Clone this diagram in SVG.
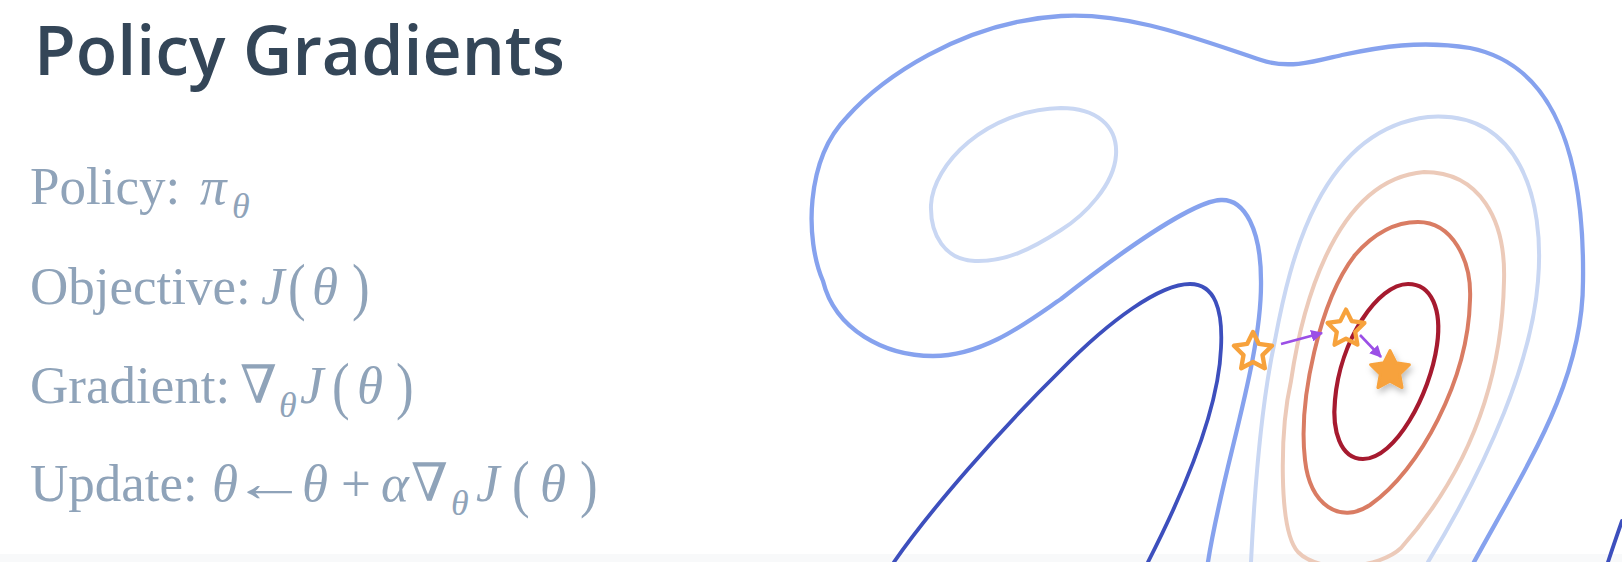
<svg xmlns="http://www.w3.org/2000/svg" width="1622" height="562" viewBox="0 0 1622 562">
<style>
.title{font-family:"Open Sans","Noto Sans",sans-serif;font-weight:600;font-size:68px;fill:#344658}
.body{font-family:"Liberation Serif","DejaVu Serif",serif;font-size:53px;fill:#8fa3b9}
.it{font-style:italic}
.sub{font-style:italic;font-size:36px}
.c{fill:none;stroke-width:4;stroke-linecap:round;stroke-linejoin:round}
.ca{stroke:#86a2ee;stroke-width:4.3}
.cb{stroke:#c9d7f3}
.cc{stroke:#3d4fbd;stroke-width:3.8}
.ce{stroke:#eccab9}
.cf{stroke:#d97c63}
.cg{stroke:#a61a2f;stroke-width:4.2}
.star-o{fill:none;stroke:#f7a23c;stroke-width:4.4;stroke-linejoin:round}
.star-f{fill:#f7a23c;stroke:#f7a23c;stroke-width:3;stroke-linejoin:round}
.arr{stroke:#9b4fe6;stroke-width:2.6;fill:none}
</style>
<defs>
<path id="star" d="M0,-20 L5.9,-8.1 L19,-6.2 L9.5,3.1 L11.8,16.2 L0,10 L-11.8,16.2 L-9.5,3.1 L-19,-6.2 L-5.9,-8.1 Z"/>
<marker id="ah" markerUnits="userSpaceOnUse" markerWidth="12" markerHeight="12" viewBox="0 0 10 10" refX="9" refY="5" orient="auto">
<path d="M0,0 L10,5 L0,10 Z" fill="#9b4fe6"/>
</marker>
<filter id="sh" x="-60%" y="-60%" width="220%" height="220%">
<feDropShadow dx="2" dy="4" stdDeviation="3" flood-color="#000" flood-opacity="0.25"/>
</filter>
</defs>
<rect x="0" y="0" width="1622" height="562" fill="#ffffff"/>
<rect x="0" y="554" width="1622" height="8" fill="#f8f9fa"/>

<g id="title"><text class="title" x="34" y="75">Policy Gradients</text></g>

<g id="line-policy"><text class="body" y="204"><tspan x="30">Policy:</tspan><tspan class="it" x="200">π</tspan><tspan class="sub" x="232" y="218">θ</tspan></text></g>

<g id="line-objective">
<text class="body" y="304"><tspan x="30">Objective:</tspan><tspan class="it" x="261">J</tspan><tspan class="it" x="312">θ</tspan></text>
<text class="body" transform="translate(288,308) scale(1,1.2)">(</text>
<text class="body" transform="translate(352,308) scale(1,1.2)">)</text>
</g>

<g id="line-gradient">
<text class="body" y="403"><tspan x="30">Gradient:</tspan><tspan x="240">∇</tspan><tspan class="sub" x="279" y="417">θ</tspan><tspan class="it" x="300" y="403">J</tspan><tspan class="it" x="357">θ</tspan></text>
<text class="body" transform="translate(332,407) scale(1,1.2)">(</text>
<text class="body" transform="translate(396,407) scale(1,1.2)">)</text>
</g>

<g id="line-update">
<text class="body" y="501"><tspan x="30">Update:</tspan><tspan class="it" x="212">θ</tspan><tspan class="it" x="302">θ</tspan><tspan x="341">+</tspan><tspan class="it" x="381">α</tspan><tspan x="411">∇</tspan><tspan class="sub" x="451" y="515">θ</tspan><tspan class="it" x="476" y="501">J</tspan><tspan class="it" x="540">θ</tspan></text>
<text class="body" transform="translate(232,501) scale(1.42,1)">←</text>
<text class="body" transform="translate(512,505) scale(1,1.2)">(</text>
<text class="body" transform="translate(580,505) scale(1,1.2)">)</text>
</g>

<g id="contours">
<path id="contour-outer" class="c ca" d="M1208,562 C1222,470 1262,360 1261,281 C1261,230 1245,199 1221,200 C1195,201 1130,245 1061,299 C1030,320 985,356 933,356 C885,356 835,330 823,281 C805,240 805,160 847,117 C880,80 960,22 1061,16 C1130,12 1200,40 1261,60 C1290,70 1320,60 1342,55 C1380,47 1420,40 1470,48 C1540,62 1585,130 1583,281 C1583,380 1530,460 1474,562"/>
<path id="contour-island" class="c cb" d="M1061,108 C1095,108 1118,125 1116,155 C1114,185 1085,215 1061,230 C1030,250 1005,262 975,261 C945,260 930,235 931,205 C933,165 985,110 1061,108 Z"/>
<path id="contour-dark" class="c cc" d="M894,562 C930,510 1000,430 1061,370 C1110,320 1160,284 1190,284 C1215,284 1223,310 1221,348 C1219,400 1195,470 1148,562"/>
<path id="contour-pale" class="c cb" d="M1251,562 C1255,480 1262,400 1275,340 C1290,260 1320,130 1428,117 C1520,110 1545,200 1538,281 C1532,360 1490,460 1428,562"/>
<path id="contour-salmon-light" class="c ce" d="M1424,172 C1480,172 1506,220 1504,281 C1502,380 1470,470 1401,548 C1380,568 1320,575 1298,552 C1278,530 1280,430 1291,381 C1300,320 1330,180 1424,172 Z"/>
<path id="contour-salmon" class="c cf" d="M1418,222 C1452,222 1472,260 1470,300 C1468,380 1420,470 1370,505 C1340,525 1310,505 1305,460 C1298,400 1320,300 1355,255 C1375,232 1395,222 1418,222 Z"/>
<path id="contour-red" class="c cg" d="M1408,284 C1432,284 1442,310 1437,345 C1430,395 1395,459 1363,459 C1340,459 1332,430 1335,400 C1340,340 1378,284 1408,284 Z"/>
<path id="contour-edge" class="c cc" d="M1608,562 C1612,550 1617,535 1622,521"/>
</g>

<g id="star-start"><use href="#star" class="star-o" transform="translate(1253,352)"/></g>
<g id="star-mid"><use href="#star" class="star-o" transform="translate(1346,329) scale(0.97)"/></g>
<g id="star-goal" filter="url(#sh)"><use href="#star" class="star-f" transform="translate(1390,371) scale(1.02)"/></g>

<g id="connectors">
<line class="arr" x1="1281" y1="344" x2="1322" y2="333" marker-end="url(#ah)"/>
<line class="arr" x1="1360" y1="335" x2="1381" y2="357" marker-end="url(#ah)"/>
</g>
</svg>
